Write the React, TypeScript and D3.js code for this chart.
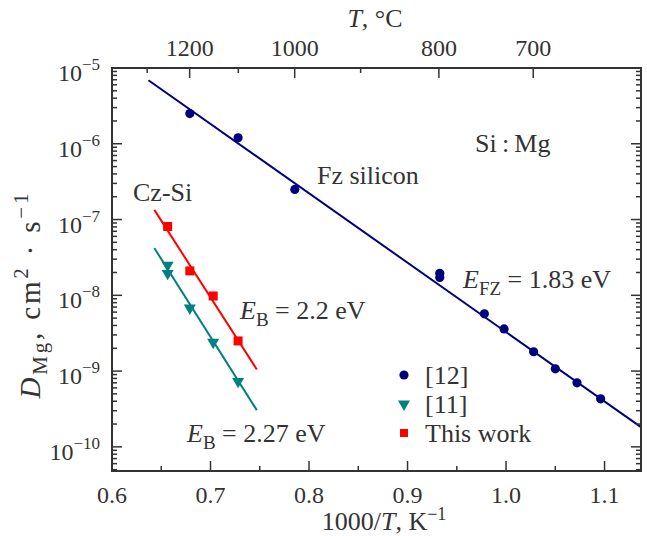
import React from 'react';
import * as d3 from 'd3';

// [12] — Fz silicon, 1000/T (K^-1) and D (cm^2/s)
const ref12X = [0.679, 0.728, 0.7856, 0.9327, 0.9327, 0.978, 0.998, 1.028, 1.05, 1.072, 1.096];
const ref12Y = [2.5e-6, 1.2e-6, 2.5e-7, 1.95e-8, 1.72e-8, 5.7e-9, 3.6e-9, 1.8e-9, 1.07e-9, 7.0e-10, 4.3e-10];

// [11] — Cz-Si
const ref11X = [0.6565, 0.6565, 0.679, 0.7027, 0.728];
const ref11Y = [2.5e-8, 1.95e-8, 6.8e-9, 2.4e-9, 7.3e-10];

// This work — Cz-Si
const thisWorkX = [0.6565, 0.679, 0.7027, 0.728];
const thisWorkY = [8.1e-8, 2.1e-8, 9.8e-9, 2.5e-9];

// Arrhenius fit lines (end points)
const fzFitX = [0.637, 1.137];
const fzFitY = [6.9e-6, 1.82e-10];
const czFitX = [0.643, 0.747];
const thisFitY = [1.34e-7, 1.05e-9];
const ref11FitY = [4.2e-8, 3.05e-10];

// axis ticks
const xMajor = [0.6, 0.7, 0.8, 0.9, 1.0, 1.1];
const xMinor = [0.65, 0.75, 0.85, 0.95, 1.05];
const yDecades = [-10, -9, -8, -7, -6, -5];
const tempMajor = [1200, 1000, 800, 700];
const tempMinor = [1300, 1100, 900];

const W = 647;
const H = 536;
const left = 112, right = 641, top = 68, bottom = 471;

const NAVY = '#00007f';
const TEAL = '#008080';
const RED = '#ff0000';
const INK = '#333333';
const FONT = '"Liberation Serif", "Times New Roman", serif';

const App = () => {
    const x = d3.scaleLinear().domain([0.6, 1.137]).range([left, right]);
    const y = d3.scaleLog().domain([4.8e-11, 1e-5]).range([bottom, top]);
    const xT = (t: number) => x(1000 / (t + 273.15));

    const line = d3.line<[number, number]>().x(d => x(d[0])).y(d => y(d[1]));
    const fit = (xs: number[], ys: number[]) => line(xs.map((v, i) => [v, ys[i]] as [number, number])) || '';

    const yMinor: number[] = [];
    for (let e = -11; e <= -6; e++) {
        for (let k = 2; k <= 9; k++) {
            const v = k * Math.pow(10, e);
            if (v >= 4.8e-11 && v <= 1e-5) yMinor.push(v);
        }
    }

    const tri = d3.symbol().type(d3.symbolTriangle).size(62)();
    const maj = 10, mnr = 5;

    return (
        <svg width={W} height={H} style={{position: 'absolute', left: 0, top: 0}}
             fontFamily={FONT} fill={INK}>
            <rect x={0} y={0} width={W} height={H} fill="#fff"/>

            {/* fit lines */}
            <path d={fit(fzFitX, fzFitY)} stroke={NAVY} strokeWidth={2} fill="none"/>
            <path d={fit(czFitX, thisFitY)} stroke={RED} strokeWidth={2} fill="none"/>
            <path d={fit(czFitX, ref11FitY)} stroke={TEAL} strokeWidth={2} fill="none"/>

            {/* points */}
            {ref12X.map((v, i) => (
                <circle key={'a' + i} cx={x(v)} cy={y(ref12Y[i])} r={4.6} fill={NAVY}/>
            ))}
            {ref11X.map((v, i) => (
                <path key={'b' + i} d={tri} fill={TEAL}
                      transform={`translate(${x(v)},${y(ref11Y[i])}) rotate(180)`}/>
            ))}
            {thisWorkX.map((v, i) => (
                <rect key={'c' + i} x={x(v) - 4.5} y={y(thisWorkY[i]) - 4.5} width={9} height={9} fill={RED}/>
            ))}

            {/* frame */}
            <rect x={left} y={top} width={right - left} height={bottom - top} fill="none" stroke={INK} strokeWidth={2}/>

            {/* bottom / top ticks */}
            {xMajor.map(v => (
                <g key={'xm' + v}>
                    <line x1={x(v)} x2={x(v)} y1={bottom} y2={bottom - maj} stroke={INK} strokeWidth={1.5}/>
                    <text x={x(v)} y={503} fontSize={24} textAnchor="middle">{v.toFixed(1)}</text>
                </g>
            ))}
            {xMinor.map(v => (
                <line key={'xn' + v} x1={x(v)} x2={x(v)} y1={bottom} y2={bottom - mnr} stroke={INK} strokeWidth={1.5}/>
            ))}
            {tempMajor.map(t => (
                <g key={'tm' + t}>
                    <line x1={xT(t)} x2={xT(t)} y1={top} y2={top + maj} stroke={INK} strokeWidth={1.5}/>
                    <text x={xT(t)} y={56} fontSize={24} textAnchor="middle">{t}</text>
                </g>
            ))}
            {tempMinor.map(t => (
                <line key={'tn' + t} x1={xT(t)} x2={xT(t)} y1={top} y2={top + mnr} stroke={INK} strokeWidth={1.5}/>
            ))}

            {/* y ticks, both sides */}
            {yDecades.map(e => {
                const yy = y(Math.pow(10, e));
                return (
                    <g key={'ym' + e}>
                        <line x1={left} x2={left + maj} y1={yy} y2={yy} stroke={INK} strokeWidth={1.5}/>
                        <line x1={right} x2={right - maj} y1={yy} y2={yy} stroke={INK} strokeWidth={1.5}/>
                        <text x={100} y={yy + 13} fontSize={24} textAnchor="end">
                            10<tspan dy={-11} fontSize={17}>{'\u2212' + Math.abs(e)}</tspan>
                        </text>
                    </g>
                );
            })}
            {yMinor.map(v => (
                <g key={'yn' + v}>
                    <line x1={left} x2={left + mnr} y1={y(v)} y2={y(v)} stroke={INK} strokeWidth={1.5}/>
                    <line x1={right} x2={right - mnr} y1={y(v)} y2={y(v)} stroke={INK} strokeWidth={1.5}/>
                </g>
            ))}

            {/* axis titles */}
            <text x={384} y={530} fontSize={26} textAnchor="middle">
                1000/<tspan fontStyle="italic">T</tspan>, K<tspan dy={-10} fontSize={18}>{'\u22121'}</tspan>
            </text>
            <text x={375} y={27} fontSize={26} textAnchor="middle">
                <tspan fontStyle="italic">T</tspan>, °C
            </text>
            <text transform="translate(40,296) rotate(-90)" fontSize={29} textAnchor="middle"
                  textLength={205} lengthAdjust="spacing">
                <tspan fontStyle="italic">D</tspan>
                <tspan dy={7} fontSize={21}>Mg</tspan>
                <tspan dy={-7}>, cm</tspan>
                <tspan dy={-12} fontSize={21}>2</tspan>
                <tspan dy={12}>{' · s'}</tspan>
                <tspan dy={-12} fontSize={21}>{'\u22121'}</tspan>
            </text>

            {/* annotations */}
            <text x={475} y={152} fontSize={26}>Si{'\u2009'}:{'\u2009'}Mg</text>
            <text x={317} y={184} fontSize={26}>Fz silicon</text>
            <text x={133} y={201} fontSize={26}>Cz-Si</text>
            <text x={463} y={288} fontSize={26}>
                <tspan fontStyle="italic">E</tspan><tspan dy={7} fontSize={19}>FZ</tspan><tspan dy={-7}> = 1.83 eV</tspan>
            </text>
            <text x={240} y={319} fontSize={26}>
                <tspan fontStyle="italic">E</tspan><tspan dy={7} fontSize={19}>B</tspan><tspan dy={-7}> = 2.2 eV</tspan>
            </text>
            <text x={187} y={442} fontSize={26}>
                <tspan fontStyle="italic">E</tspan><tspan dy={7} fontSize={19}>B</tspan><tspan dy={-7}> = 2.27 eV</tspan>
            </text>

            {/* legend */}
            <circle cx={404} cy={375} r={4.6} fill={NAVY}/>
            <text x={425} y={384} fontSize={26}>[12]</text>
            <path d={tri} fill={TEAL} transform="translate(404,404) rotate(180)"/>
            <text x={425} y={413} fontSize={26}>[11]</text>
            <rect x={400} y={429} width={8} height={8} fill={RED}/>
            <text x={425} y={442} fontSize={26}>This work</text>
        </svg>
    );
};

export default App;
